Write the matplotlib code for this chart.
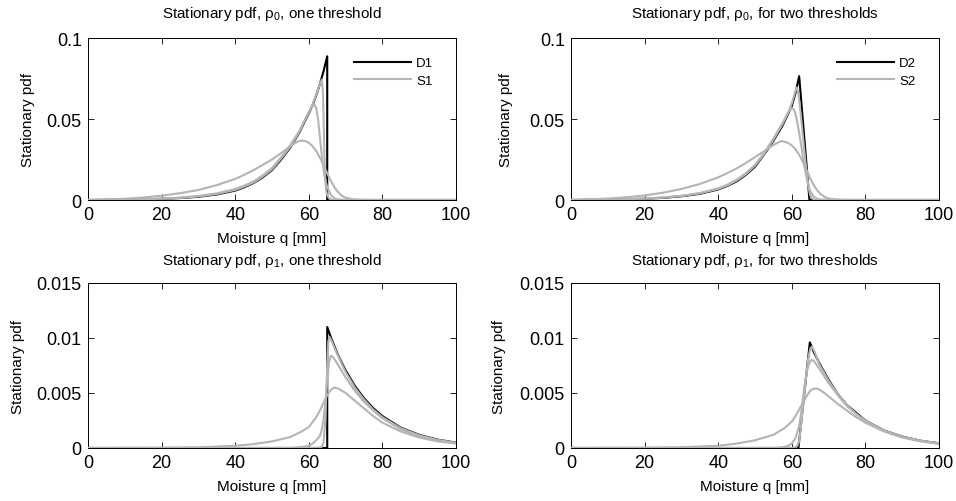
# %%
import matplotlib
matplotlib.use("Agg")
import matplotlib.pyplot as plt

plt.rcParams['font.family'] = ['Liberation Sans', 'DejaVu Sans']
plt.rcParams['mathtext.fontset'] = 'custom'
plt.rcParams['mathtext.rm'] = 'Liberation Sans'
plt.rcParams['mathtext.it'] = 'Liberation Sans'

# %%
# Values: moisture q [mm] and stationary pdf

# rho_0, one threshold
q_d1_r0 = [0, 5, 10, 15, 20, 25, 30, 35, 40, 42.5, 45, 47.5, 50, 52.5, 55, 57.5, 60,
           61, 62, 63, 64, 65, 65, 100]
p_d1_r0 = [0, 0.0001, 0.0002, 0.0004, 0.0007, 0.0012, 0.002, 0.0034, 0.0058, 0.0079,
           0.0105, 0.014, 0.0185, 0.025, 0.0325, 0.042, 0.0535, 0.0585, 0.0645, 0.0715,
           0.0795, 0.0887, 0, 0]
q_s1a_r0 = [0, 5, 10, 15, 20, 25, 30, 35, 40, 42.5, 45, 47.5, 50, 52.5, 55, 57.5, 60,
            61, 62, 63, 63.5, 63.8, 64.0, 64.2, 64.4, 64.7, 65, 65.5, 66, 67, 100]
p_s1a_r0 = [0, 0.0001, 0.0002, 0.0004, 0.0008, 0.0013, 0.0022, 0.0037, 0.0062, 0.0083,
            0.0108, 0.0145, 0.019, 0.0257, 0.033, 0.0425, 0.054, 0.059, 0.0648, 0.0715,
            0.0743, 0.068, 0.052, 0.030, 0.014, 0.006, 0.003, 0.001, 0.0003, 0, 0]
q_s1b_r0 = [0, 5, 10, 15, 20, 25, 30, 35, 40, 42.5, 45, 47.5, 50, 52.5, 55, 57.5, 59,
            60, 61, 61.5, 62, 62.5, 63, 63.5, 64, 64.5, 65, 66, 67, 68, 70, 100]
p_s1b_r0 = [0, 0.0001, 0.0002, 0.0005, 0.0009, 0.0015, 0.0025, 0.0041, 0.0068, 0.0089,
            0.0115, 0.0152, 0.0198, 0.0265, 0.034, 0.043, 0.05, 0.0545, 0.058, 0.0588,
            0.057, 0.05, 0.039, 0.028, 0.0185, 0.012, 0.008, 0.003, 0.001, 0.0003, 0, 0]
q_s1c_r0 = [0, 5, 10, 15, 20, 25, 30, 35, 40, 42.5, 45, 47.5, 50, 52.5, 55, 57, 58, 59,
            60, 61, 62, 63, 64, 65, 66, 67, 68, 69, 70, 72, 75, 80, 100]
p_s1c_r0 = [0.0001, 0.0003, 0.0008, 0.0015, 0.0027, 0.0042, 0.0062, 0.0092, 0.013,
            0.0156, 0.0185, 0.0217, 0.025, 0.029, 0.0333, 0.0361, 0.0367, 0.0364,
            0.0353, 0.0333, 0.0303, 0.0262, 0.0215, 0.0165, 0.0118, 0.0078, 0.0047,
            0.0026, 0.0014, 0.0004, 0.0001, 0, 0]

# rho_0, two thresholds
q_d2_r0 = [0, 5, 10, 15, 20, 25, 30, 35, 40, 42.5, 45, 47.5, 50, 53.4, 55, 57.5, 60,
           61, 62, 64.8, 100]
p_d2_r0 = [0, 0.0001, 0.0002, 0.0004, 0.0008, 0.0013, 0.0023, 0.0038, 0.0065, 0.0087,
           0.0115, 0.0155, 0.0205, 0.031, 0.0365, 0.046, 0.058, 0.066, 0.0764, 0, 0]
q_s2a_r0 = [0, 5, 10, 15, 20, 25, 30, 35, 40, 42.5, 45, 47.5, 50, 52.5, 55, 57.5, 59,
            60, 61, 61.3, 61.7, 62, 62.5, 63, 63.5, 64, 64.5, 65, 65.5, 66, 67, 100]
p_s2a_r0 = [0, 0.0001, 0.0002, 0.0005, 0.0009, 0.0015, 0.0025, 0.0041, 0.0068, 0.009,
            0.012, 0.016, 0.0212, 0.0285, 0.0372, 0.047, 0.054, 0.0595, 0.0675, 0.0695,
            0.067, 0.062, 0.0515, 0.04, 0.0285, 0.0175, 0.0085, 0.003, 0.001, 0.0003,
            0, 0]
q_s2b_r0 = [0, 5, 10, 15, 20, 25, 30, 35, 40, 42.5, 45, 47.5, 50, 52.5, 55, 57.5, 59,
            60, 60.5, 61, 61.5, 62, 62.5, 63, 63.5, 64, 64.5, 65, 66, 67, 68, 70, 100]
p_s2b_r0 = [0, 0.0001, 0.0002, 0.0005, 0.0009, 0.0016, 0.0026, 0.0043, 0.0072, 0.0095,
            0.0125, 0.0165, 0.0218, 0.029, 0.038, 0.0475, 0.054, 0.0568, 0.056, 0.053,
            0.048, 0.0415, 0.0345, 0.027, 0.02, 0.014, 0.009, 0.0055, 0.002, 0.0007,
            0.0002, 0, 0]
q_s2c_r0 = [0, 5, 10, 15, 20, 25, 30, 35, 40, 42.5, 45, 47.5, 50, 53.4, 55, 57, 58, 59,
            60, 61, 62, 63, 64, 65, 66, 67, 68, 69, 70, 72, 75, 80, 100]
p_s2c_r0 = [0.0001, 0.0004, 0.0009, 0.0017, 0.0028, 0.0045, 0.0068, 0.0099, 0.014,
            0.0166, 0.0195, 0.0228, 0.0265, 0.0315, 0.034, 0.0363, 0.0361, 0.0352,
            0.0337, 0.0313, 0.028, 0.0235, 0.0185, 0.0135, 0.009, 0.0057, 0.0033,
            0.0018, 0.0009, 0.0003, 0.0001, 0, 0]

# rho_1, one threshold
q_d1_r1 = [0, 65, 65, 66, 67.5, 68, 70, 72.5, 75, 77.5, 80, 85, 90, 95, 100]
p_d1_r1 = [0, 0, 0.011, 0.01006, 0.0088, 0.0084, 0.00705, 0.00565, 0.00452, 0.00362,
           0.0029, 0.00185, 0.00119, 0.00076, 0.00049]
q_s1a_r1 = [0, 62, 63, 63.5, 64, 64.5, 65, 65.3, 65.6, 66, 67.5, 70, 72.5, 75, 77.5,
            80, 85, 90, 95, 100]
p_s1a_r1 = [0, 0, 0.00003, 0.0001, 0.0005, 0.0025, 0.0075, 0.0097, 0.0101, 0.0099,
            0.0087, 0.0069, 0.0055, 0.0044, 0.0035, 0.0028, 0.0018, 0.00115, 0.00073,
            0.00047]
q_s1b_r1 = [0, 55, 58, 60, 61, 62, 63, 63.5, 64, 64.5, 65, 65.5, 66, 66.5, 67.5, 70,
            72.5, 75, 77.5, 80, 85, 90, 95, 100]
p_s1b_r1 = [0, 0, 0.0001, 0.0002, 0.0004, 0.0007, 0.0011, 0.0016, 0.0026, 0.0041,
            0.0062, 0.0078, 0.0084, 0.0083, 0.0078, 0.0064, 0.0052, 0.0042, 0.0034,
            0.0027, 0.0017, 0.0011, 0.0007, 0.00045]
q_s1c_r1 = [0, 20, 30, 40, 45, 50, 55, 58, 60, 62, 63, 64, 65, 66, 67, 68, 70, 72.5,
            75, 77.5, 80, 85, 90, 95, 100]
p_s1c_r1 = [0, 0.00002, 0.00006, 0.0002, 0.00035, 0.0006, 0.001, 0.0015, 0.0019,
            0.0028, 0.0034, 0.0041, 0.0048, 0.0053, 0.0055, 0.0054, 0.005, 0.0043,
            0.0036, 0.0029, 0.0023, 0.0015, 0.00095, 0.0006, 0.0004]

# rho_1, two thresholds
q_d2_r1 = [0, 61.8, 64.9, 66, 67.5, 70, 72.5, 75, 77.5, 80, 85, 90, 95, 100]
p_d2_r1 = [0, 0, 0.0096, 0.0087, 0.0077, 0.0062, 0.0049, 0.0039, 0.0032, 0.0025,
           0.0016, 0.00104, 0.00066, 0.00043]
q_s2a_r1 = [0, 60, 61, 61.5, 62, 62.5, 63, 63.5, 64, 64.5, 65, 65.4, 66, 67.5, 70,
            72.5, 75, 77.5, 80, 85, 90, 95, 100]
p_s2a_r1 = [0, 0, 0.00005, 0.0002, 0.0006, 0.002, 0.0036, 0.0052, 0.0068, 0.0082,
            0.009, 0.0092, 0.0089, 0.0076, 0.0061, 0.0049, 0.0039, 0.0031, 0.0025,
            0.0016, 0.00103, 0.00066, 0.00042]
q_s2b_r1 = [0, 55, 57, 58, 59, 60, 61, 62, 62.5, 63, 63.5, 64, 64.5, 65, 65.5, 66,
            67.5, 70, 72.5, 75, 77.5, 80, 85, 90, 95, 100]
p_s2b_r1 = [0, 0, 0.00005, 0.0001, 0.0002, 0.0004, 0.0009, 0.002, 0.0031, 0.0044,
            0.0057, 0.0068, 0.0075, 0.0079, 0.008, 0.0079, 0.0072, 0.0059, 0.0048,
            0.0038, 0.0031, 0.0024, 0.00155, 0.001, 0.00064, 0.00041]
q_s2c_r1 = [0, 20, 30, 40, 45, 50, 55, 58, 60, 61, 62, 63, 64, 65, 66, 67, 68, 70,
            72.5, 75, 77.5, 80, 85, 90, 95, 100]
p_s2c_r1 = [0, 0.00002, 0.00007, 0.0002, 0.0004, 0.0007, 0.0012, 0.0018, 0.0024,
            0.0029, 0.0035, 0.0041, 0.0047, 0.0052, 0.0054, 0.0054, 0.0052, 0.0047,
            0.004, 0.0034, 0.0028, 0.0023, 0.0015, 0.00095, 0.0006, 0.00038]

x_ticks = [0, 20, 40, 60, 80, 100]
y_ticks_r0 = [0, 0.05, 0.1]
y_ticks_r1 = [0, 0.005, 0.01, 0.015]
y_labels_r0 = ['0', '0.05', '0.1']
y_labels_r1 = ['0', '0.005', '0.01', '0.015']

grey = '#b4b4b4'


# %%
def panel(ax, det, stoch, title, yticks, ylabels, ylab_x, title_y, legend=None):
    ax.plot(det[0], det[1], color='black', lw=1.5, label=legend[0] if legend else None)
    for i, (q, p) in enumerate(stoch):
        lab = legend[1] if (legend and i == 0) else None
        ax.plot(q, p, color=grey, lw=1.5, label=lab)
    ax.set_xlim(0, 100)
    ax.set_ylim(yticks[0], yticks[-1])
    ax.set_xticks(x_ticks)
    ax.set_yticks(yticks)
    ax.set_yticklabels(ylabels)
    ax.tick_params(direction='in', top=True, right=True, length=4, width=0.6,
                   labelsize=13, pad=4.5)
    for s in ax.spines.values():
        s.set_linewidth(0.7)
        s.set_zorder(1)
    ax.set_title(title, fontsize=11, y=title_y, pad=0)
    ax.set_xlabel('Moisture q [mm]', fontsize=11)
    ax.set_ylabel('Stationary pdf', fontsize=11)
    ax.xaxis.set_label_coords(0.5, -0.19)
    ax.yaxis.set_label_coords(ylab_x, 0.5)
    if legend:
        ax.legend(loc='upper right', bbox_to_anchor=(0.97, 0.955), frameon=False,
                  fontsize=9.5, handlelength=4.3, handletextpad=0.4,
                  labelspacing=0.4)


fig = plt.figure(figsize=(9.56, 5.02), dpi=100)
ax_tl = fig.add_axes([0.0921, 0.5996, 0.3849, 0.3227])
ax_tr = fig.add_axes([0.5973, 0.5996, 0.3849, 0.3227])
ax_bl = fig.add_axes([0.0921, 0.1056, 0.3849, 0.3287])
ax_br = fig.add_axes([0.5973, 0.1056, 0.3849, 0.3287])

panel(ax_tl, (q_d1_r0, p_d1_r0),
      [(q_s1a_r0, p_s1a_r0), (q_s1b_r0, p_s1b_r0), (q_s1c_r0, p_s1c_r0)],
      'Stationary pdf, ρ$_0$, one threshold', y_ticks_r0, y_labels_r0,
      -0.144, 1.13, ('D1', 'S1'))
panel(ax_tr, (q_d2_r0, p_d2_r0),
      [(q_s2a_r0, p_s2a_r0), (q_s2b_r0, p_s2b_r0), (q_s2c_r0, p_s2c_r0)],
      'Stationary pdf, ρ$_0$, for two thresholds', y_ticks_r0, y_labels_r0,
      -0.158, 1.13, ('D2', 'S2'))
panel(ax_bl, (q_d1_r1, p_d1_r1),
      [(q_s1a_r1, p_s1a_r1), (q_s1b_r1, p_s1b_r1), (q_s1c_r1, p_s1c_r1)],
      'Stationary pdf, ρ$_1$, one threshold', y_ticks_r1, y_labels_r1,
      -0.171, 1.115)
panel(ax_br, (q_d2_r1, p_d2_r1),
      [(q_s2a_r1, p_s2a_r1), (q_s2b_r1, p_s2b_r1), (q_s2c_r1, p_s2c_r1)],
      'Stationary pdf, ρ$_1$, for two thresholds', y_ticks_r1, y_labels_r1,
      -0.177, 1.115)

fig.savefig('out.png', dpi=100)
